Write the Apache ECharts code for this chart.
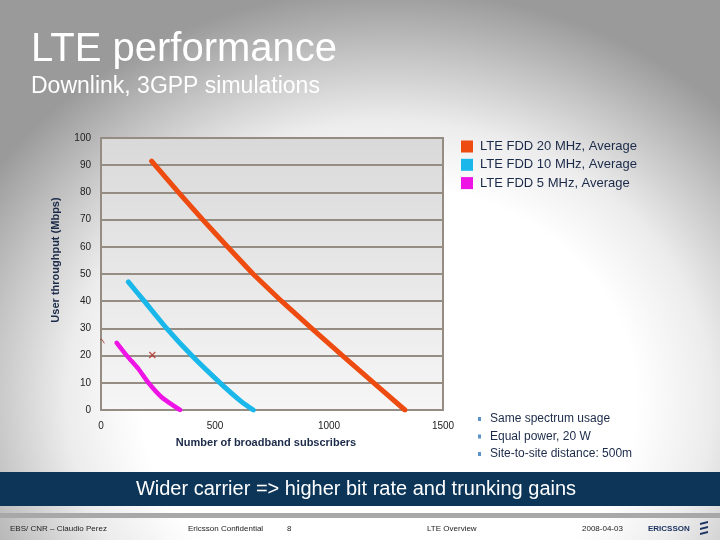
<!DOCTYPE html>
<html>
<head>
<meta charset="utf-8">
<script src="https://cdn.jsdelivr.net/npm/echarts@6/dist/echarts.min.js"></script>
<style>
  html, body { margin: 0; padding: 0; }
  body {
    width: 720px; height: 540px; overflow: hidden;
    background: #9a9a9a radial-gradient(ellipse 66% 76% at 54% 74%, #ffffff 0%, #ffffff 52%, #ececec 68%, #c4c4c4 84%, #9a9a9a 100%);
  }
  #chart { width: 720px; height: 540px; }
</style>
</head>
<body>
<div id="chart"></div>
<script>
// ---- data ----
const seriesNames = ['LTE FDD 20 MHz, Average', 'LTE FDD 10 MHz, Average', 'LTE FDD 5 MHz, Average'];
const fdd20x = [222, 340, 446, 555, 667, 792, 924, 1059, 1196, 1333];
const fdd20y = [91.5, 80, 70, 60, 50, 40, 30, 20, 10, 0];
const fdd10x = [120, 190, 288, 398, 522, 617, 668];
const fdd10y = [47.1, 40, 30, 20, 10, 3, 0];
const fdd5x = [69, 113, 164, 208, 266, 347];
const fdd5y = [24.7, 20, 15.1, 10, 4.7, 0];
const markerX = [225];
const markerY = [20.2];
const stubX = [6];
const stubY = [25.2];
const xTicks = [0, 500, 1000, 1500];
const yTicks = [0, 10, 20, 30, 40, 50, 60, 70, 80, 90, 100];
const xAxisTitle = 'Number of broadband subscribers';
const yAxisTitle = 'User throughput (Mbps)';
const bullets = ['Same spectrum usage', 'Equal power, 20 W', 'Site-to-site distance: 500m'];
const footer = ['EBS/ CNR – Claudio Perez', 'Ericsson Confidential', '8', 'LTE Overview', '2008-04-03'];

function pairs(xs, ys) { return xs.map((x, i) => [x, ys[i]]); }

const chart = echarts.init(document.getElementById('chart'));
const font = '"Liberation Sans", Arial, sans-serif';
const navy = '#1b2a48';

const footerX = [10, 188, 287, 427, 582];

const graphics = [
  { type: 'text', left: 31, top: 30, style: { text: 'LTE performance', fill: '#ffffff', font: '40px ' + font } },
  { type: 'text', left: 31, top: 75, style: { text: 'Downlink, 3GPP simulations', fill: '#ffffff', font: '23px ' + font } },
  // axis titles
  { type: 'text', x: 56, y: 260, rotation: Math.PI / 2, style: { text: yAxisTitle, fill: navy, font: 'bold 11px ' + font, align: 'center', verticalAlign: 'middle' } },
  { type: 'text', x: 266, y: 443, style: { text: xAxisTitle, fill: navy, font: 'bold 11px ' + font, align: 'center', verticalAlign: 'middle' } },
  // banner
  { type: 'rect', shape: { x: 0, y: 472, width: 720, height: 34 }, style: { fill: '#0c3558' } },
  { type: 'text', x: 356, y: 489, style: { text: 'Wider carrier => higher bit rate and trunking gains', fill: '#ffffff', font: '20px ' + font, align: 'center', verticalAlign: 'middle' } },
  // footer rule
  { type: 'rect', shape: { x: 0, y: 513, width: 720, height: 5 }, style: { fill: '#a8a8a8' } },
  // ericsson logo
  { type: 'text', x: 648, y: 529, style: { text: 'ERICSSON', fill: '#1c3360', font: 'bold 8px ' + font, verticalAlign: 'middle' } },
  { type: 'polygon', shape: { points: [[700, 523], [708, 521], [708, 523], [700, 525]] }, style: { fill: '#1c3360' } },
  { type: 'polygon', shape: { points: [[700, 528], [708, 526], [708, 528], [700, 530]] }, style: { fill: '#1c3360' } },
  { type: 'polygon', shape: { points: [[700, 533], [708, 531], [708, 533], [700, 535]] }, style: { fill: '#1c3360' } }
];
footer.forEach((t, i) => {
  graphics.push({ type: 'text', x: footerX[i], y: 529, style: { text: t, fill: '#222222', font: '8px ' + font, verticalAlign: 'middle' } });
});
bullets.forEach((t, i) => {
  const y = 419 + i * 17.5;
  graphics.push({ type: 'rect', shape: { x: 478, y: y - 2, width: 3, height: 4 }, style: { fill: '#5b93c8' } });
  graphics.push({ type: 'text', x: 490, y: y, style: { text: t, fill: navy, font: '12px ' + font, verticalAlign: 'middle' } });
});

const option = {
  backgroundColor: 'transparent',
  animation: false,
  textStyle: { fontFamily: font },
  legend: {
    data: seriesNames,
    orient: 'vertical',
    left: 461,
    top: 140,
    padding: 0,
    icon: 'rect',
    itemWidth: 12,
    itemHeight: 12,
    itemGap: 5.3,
    textStyle: { fontSize: 13, color: navy, fontFamily: font, padding: [0, 0, 0, 2] }
  },
  grid: {
    left: 101, top: 138, width: 342, height: 272,
    show: true,
    borderColor: '#958d83', borderWidth: 2,
    backgroundColor: {
      type: 'linear', x: 0, y: 0, x2: 0, y2: 1,
      colorStops: [{ offset: 0, color: '#d9d9d9' }, { offset: 1, color: '#f6f6f6' }]
    }
  },
  xAxis: {
    type: 'value', min: 0, max: 1500, interval: 500,
    axisLine: { show: false }, axisTick: { show: false },
    splitLine: { show: false },
    axisLabel: { fontSize: 10, color: '#222', margin: 11, customValues: xTicks, formatter: v => String(v) }
  },
  yAxis: {
    type: 'value', min: 0, max: 100, interval: 10,
    axisLine: { show: false }, axisTick: { show: false },
    splitLine: { show: true, lineStyle: { color: '#958d83', width: 2 } },
    axisLabel: { fontSize: 10, color: '#222', margin: 10, customValues: yTicks, formatter: v => String(v) }
  },
  series: [
    { name: seriesNames[0], type: 'line', data: pairs(fdd20x, fdd20y), showSymbol: false, symbol: 'none', smooth: false,
      itemStyle: { color: '#ee4b10' }, lineStyle: { color: '#ee4b10', width: 5, cap: 'round', join: 'round' } },
    { name: seriesNames[1], type: 'line', data: pairs(fdd10x, fdd10y), showSymbol: false, symbol: 'none', smooth: 0.2,
      itemStyle: { color: '#1ab8ea' }, lineStyle: { color: '#1ab8ea', width: 5, cap: 'round', join: 'round' } },
    { name: seriesNames[2], type: 'line', data: pairs(fdd5x, fdd5y), showSymbol: false, symbol: 'none', smooth: 0.2,
      itemStyle: { color: '#ee14e6' }, lineStyle: { color: '#ee14e6', width: 4.5, cap: 'round', join: 'round' } },
    { name: 'marker', type: 'scatter', data: pairs(markerX, markerY), symbol: 'path://M0,0L10,10M10,0L0,10', symbolSize: 6,
      itemStyle: { color: 'none', borderColor: '#b8302a', borderWidth: 1.5 } },
    { name: 'stub', type: 'scatter', data: pairs(stubX, stubY), symbol: 'path://M0,0L4,0L10,8', symbolSize: [4, 4],
      itemStyle: { color: 'none', borderColor: '#a03028', borderWidth: 1 } }
  ],
  graphic: graphics
};
chart.setOption(option);
</script>
</body>
</html>
